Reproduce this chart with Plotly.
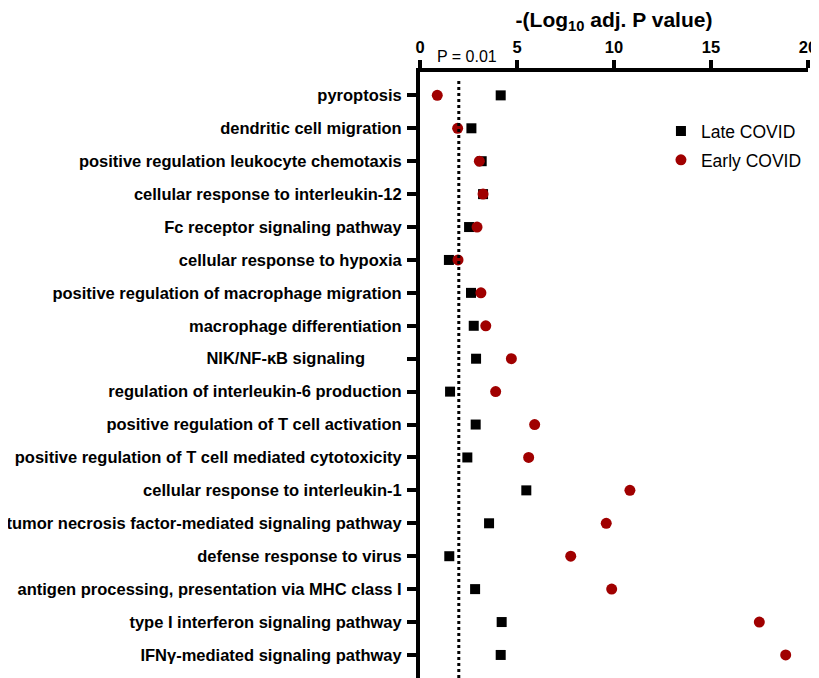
import plotly.graph_objects as go

categories = [
    "pyroptosis",
    "dendritic cell migration",
    "positive regulation leukocyte chemotaxis",
    "cellular response to interleukin-12",
    "Fc receptor signaling pathway",
    "cellular response to hypoxia",
    "positive regulation of macrophage migration",
    "macrophage differentiation",
    "NIK/NF-κB signaling" + "\u00a0" * 8,
    "regulation of interleukin-6 production",
    "positive regulation of T cell activation",
    "positive regulation of T cell mediated cytotoxicity",
    "cellular response to interleukin-1",
    "tumor necrosis factor-mediated signaling pathway",
    "defense response to virus",
    "antigen processing, presentation via MHC class I",
    "type I interferon signaling pathway",
    "IFNγ-mediated signaling pathway",
]

late_covid = [4.16, 2.65, 3.18, 3.25, 2.53, 1.49, 2.63, 2.77, 2.89,
              1.55, 2.87, 2.44, 5.48, 3.56, 1.51, 2.84, 4.21, 4.16]
early_covid = [0.89, 1.94, 3.06, 3.25, 2.94, 1.96, 3.14, 3.39, 4.71,
               3.90, 5.91, 5.60, 10.82, 9.60, 7.77, 9.88, 17.49, 18.85]

x_ticks = [0, 5, 10, 15, 20]
p_threshold = 2  # -log10(0.01)

FONT = "Arial, Liberation Sans, sans-serif"
RED = "#A00000"

# the page body has an 8px default margin; size the figure to fit the window
W, H = 811, 670
TOP = 64

ypos = list(range(len(categories)))

fig = go.Figure()
fig.add_trace(go.Scatter(
    x=late_covid, y=ypos, mode="markers", name="Late COVID",
    legendgroup="late",
    marker=dict(symbol="square", size=10, color="black"),
))
fig.add_trace(go.Scatter(
    x=early_covid, y=ypos, mode="markers", name="Early COVID",
    legendgroup="early",
    marker=dict(symbol="circle", size=11, color=RED),
))

fig.add_shape(type="line", xref="x", yref="paper", x0=p_threshold, x1=p_threshold,
              y0=0, y1=0.985, line=dict(color="black", width=3, dash="dot"))
fig.add_annotation(x=2.44, xref="x", y=1 + (TOP - 49) / (H - TOP), yref="paper",
                   yanchor="middle", text="P = 0.01", showarrow=False,
                   font=dict(family=FONT, size=16, color="black"))

fig.update_layout(
    width=W, height=H,
    margin=dict(l=412, r=11, t=TOP, b=0),
    paper_bgcolor="white", plot_bgcolor="white",
    font=dict(family=FONT, color="black"),
    showlegend=True,
    legend=dict(x=0.621, y=0.932, xanchor="left", yanchor="top",
                font=dict(family=FONT, size=17.5, color="black"),
                tracegroupgap=3, bgcolor="rgba(0,0,0,0)"),
    xaxis=dict(
        side="top", range=[0, 20], tickvals=x_ticks,
        ticktext=[str(v) for v in x_ticks], automargin=False,
        showline=True, linewidth=4, linecolor="black",
        ticks="outside", ticklen=8, tickwidth=4, tickcolor="black",
        showgrid=False, zeroline=False,
        tickfont=dict(family=FONT, size=16.5, color="black", weight="bold"),
        title=dict(text="-(Log<sub>10</sub> adj. P value)", standoff=8,
                   font=dict(family=FONT, size=21, color="black", weight="bold")),
    ),
    yaxis=dict(
        range=[17.7, -0.71], tickvals=ypos, ticktext=categories,
        automargin=False,
        showline=True, linewidth=4, linecolor="black",
        ticks="outside", ticklen=9, tickwidth=4, tickcolor="black",
        ticklabelstandoff=2,
        showgrid=False, zeroline=False,
        tickfont=dict(family=FONT, size=16.5, color="black", weight="bold"),
    ),
)

fig.write_html("out.html", config={"displayModeBar": False})
